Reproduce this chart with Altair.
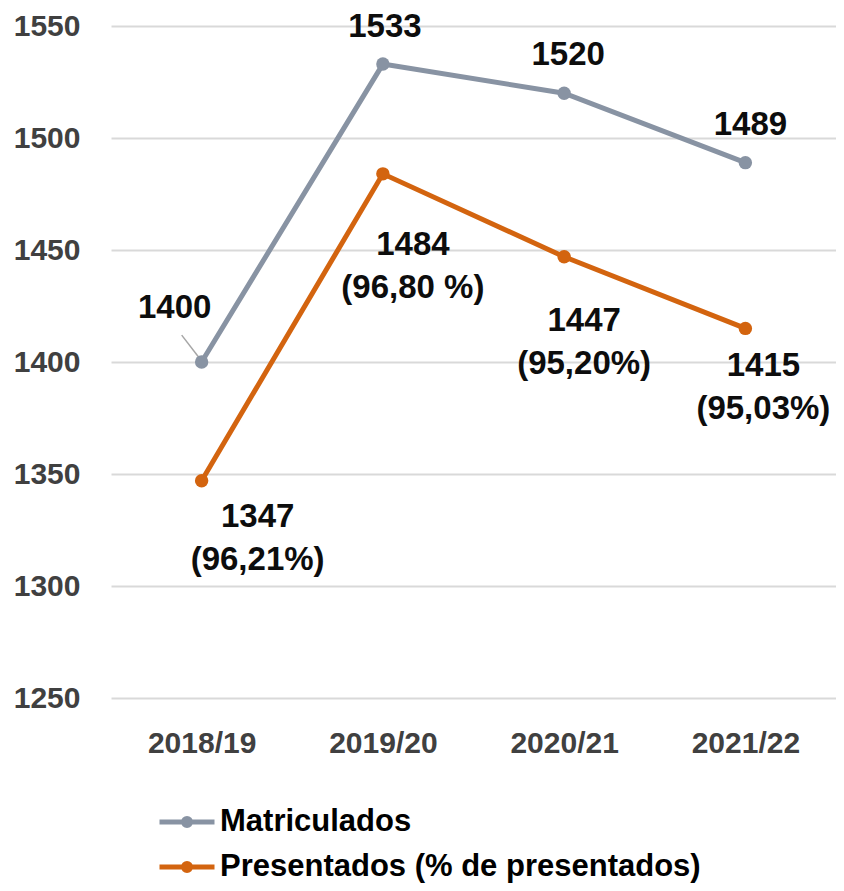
import altair as alt
import pandas as pd

years = ["2018/19", "2019/20", "2020/21", "2021/22"]
matriculados = [1400, 1533, 1520, 1489]
presentados = [1347, 1484, 1447, 1415]
pct_presentados = ["96,21%", "96,80 %", "95,20%", "95,03%"]
series_names = ["Matriculados", "Presentados (% de presentados)"]
colors = ["#8893A3", "#D3640F"]
y_ticks = [1250, 1300, 1350, 1400, 1450, 1500, 1550]

rows = []
for i, yr in enumerate(years):
    rows.append({"idx": i, "year": yr, "serie": series_names[0],
                 "value": matriculados[i], "label": str(matriculados[i])})
    rows.append({"idx": i, "year": yr, "serie": series_names[1],
                 "value": presentados[i],
                 "label": f"{presentados[i]}\n({pct_presentados[i]})"})
df = pd.DataFrame(rows)

FONT = "Liberation Sans"
label_expr = "[" + ",".join(f"'{y}'" for y in years) + "][datum.value]"

x_enc = alt.X("idx:Q",
              scale=alt.Scale(domain=[-0.5, 3.5], nice=False, zero=False),
              axis=alt.Axis(values=[0, 1, 2, 3], labelExpr=label_expr, title=None,
                            grid=False, ticks=False, domain=False,
                            labelFont=FONT, labelFontSize=30, labelFontWeight="bold",
                            labelColor="#404040", labelPadding=30))
y_scale = alt.Scale(domain=[1250, 1550], nice=False, zero=False)
y_enc = alt.Y("value:Q", scale=y_scale,
              axis=alt.Axis(values=y_ticks, title=None, ticks=False, domain=False,
                            format="d",
                            grid=True, gridColor="#D9D9D9", gridWidth=2,
                            labelFont=FONT, labelFontSize=30, labelFontWeight="bold",
                            labelColor="#404040", labelPadding=31))

legend_path = ("M-1,0L1,0M0.13,0A0.13,0.13,0,1,1,-0.13,0"
               "A0.13,0.13,0,1,1,0.13,0")
color_enc = alt.Color("serie:N",
                      scale=alt.Scale(domain=series_names, range=colors),
                      sort=series_names,
                      legend=alt.Legend(title=None, orient="none", legendX=46, legendY=766,
                                        direction="vertical", symbolType=legend_path,
                                        symbolSize=3025, symbolStrokeWidth=5,
                                        labelFont=FONT, labelFontSize=31,
                                        labelFontWeight="bold", labelColor="#000000",
                                        labelOffset=3, rowPadding=-15, padding=0,
                                        labelLimit=0))

base = alt.Chart(df)
lines = base.mark_line(strokeWidth=5).encode(x=x_enc, y=y_enc, color=color_enc)
points = base.mark_circle(size=180, opacity=1).encode(
    x="idx:Q", y="value:Q",
    color=alt.Color("serie:N", scale=alt.Scale(domain=series_names, range=colors), legend=None))

leader = base.transform_filter(
    f"datum.serie == '{series_names[0]}' && datum.idx == 0"
).transform_calculate(
    lx1="datum.idx - 0.11", ly1="datum.value + 12",
    lx2="datum.idx - 0.017", ly2="datum.value + 2.2"
).mark_rule(color="#A6A6A6", strokeWidth=1.5).encode(
    x="lx1:Q", y="ly1:Q", x2="lx2:Q", y2="ly2:Q")

offsets = {
    series_names[0]: [(-27, -54), (2, -37), (4, -38), (5, -38)],
    series_names[1]: [(56, 36), (30, 71), (20, 64), (18, 38)],
}
texts = []
for s in series_names:
    for i in range(len(years)):
        dx, dy = offsets[s][i]
        texts.append(
            base.transform_filter(f"datum.serie == '{s}' && datum.idx == {i}")
            .mark_text(font=FONT, fontSize=33, fontWeight="bold", color="#0D0D0D",
                       lineBreak="\n", lineHeight=43, align="center",
                       baseline="middle", dx=dx, dy=dy)
            .encode(x="idx:Q", y="value:Q", text="label:N")
        )

chart = alt.layer(lines, leader, points, *texts).properties(
    width=725, height=672,
    autosize=alt.AutoSizeParams(type="none"),
    padding={"left": 103, "top": 18, "right": 0, "bottom": 185},
).configure_view(stroke=None)

chart.save("out.html", embed_options={"renderer": "svg", "actions": False})
